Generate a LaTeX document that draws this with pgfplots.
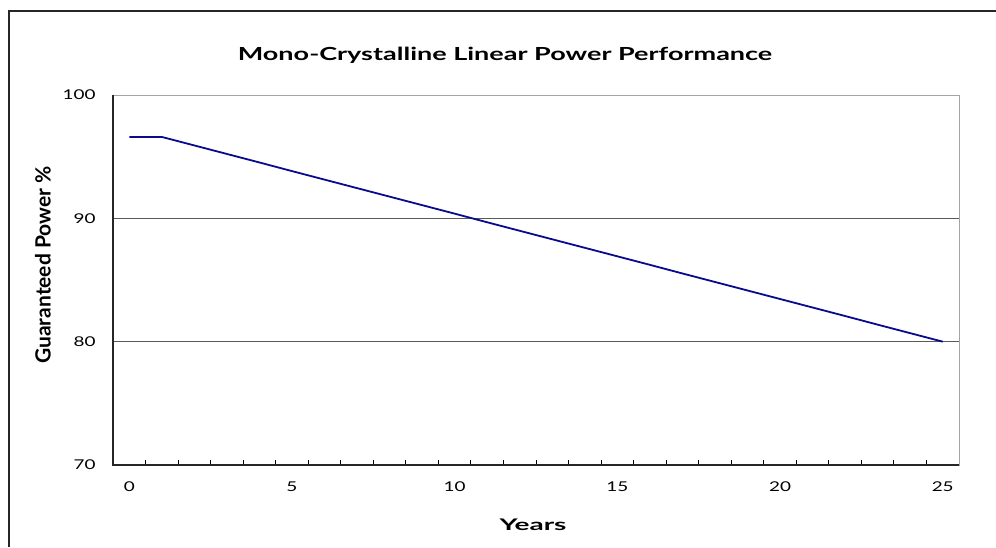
\documentclass[border=0pt]{standalone}
\usepackage{fontspec}
\setmainfont{Lato}
\usepackage{pgfplots}
\pgfplotsset{compat=1.18}
\definecolor{navyline}{RGB}{10,10,140}
\definecolor{gridgray}{RGB}{90,90,90}
\definecolor{boxgray}{RGB}{165,165,165}
\begin{document}
\begin{tikzpicture}[x=1pt,y=1pt]
\useasboundingbox (0,0) rectangle (996,547);
\draw[line width=1.3pt, black!85] (9,0) -- (9,536) -- (996,536);
\begin{axis}[
  at={(113pt,82pt)}, anchor=south west,
  scale only axis, width=846pt, height=370pt,
  xmin=-0.5, xmax=25.5, ymin=70, ymax=100,
  xtick={0,5,...,25},
  minor xtick={0.5,1.5,...,24.5},
  ytick={70,80,90,100},
  major tick length=0pt,
  minor tick length=5pt,
  tick align=inside,
  xtick pos=bottom, ytick pos=left,
  minor tick style={black, line width=0.9pt},
  ymajorgrids,
  grid style={gridgray, line width=0.9pt},
  axis line style={boxgray, line width=1pt},
  ticklabel style={font=\fontsize{13.5}{15}\selectfont},
  xticklabel={\scalebox{1.4}[1]{\pgfmathprintnumber[assume math mode=true]{\tick}}},
  yticklabel={\scalebox{1.4}[1]{\pgfmathprintnumber[assume math mode=true]{\tick}}},
  xticklabel style={yshift=-13pt},
  yticklabel style={xshift=-14pt},
  clip=false,
]
\addplot[navyline, line width=1.8pt] coordinates {
(0,96.6) (1,96.6) (2,95.91) (3,95.22) (4,94.53) (5,93.83) (6,93.14) (7,92.45)
(8,91.76) (9,91.07) (10,90.38) (11,89.68) (12,88.99) (13,88.30) (14,87.61)
(15,86.92) (16,86.23) (17,85.53) (18,84.84) (19,84.15) (20,83.46) (21,82.77)
(22,82.08) (23,81.38) (24,80.69) (25,80.0)};
\draw[black!85, line width=1.3pt] (rel axis cs:0,1) -- (rel axis cs:0,0) -- (rel axis cs:1,0);
\end{axis}
\node[font=\bfseries\fontsize{18}{20}\selectfont] at (505,492) {\scalebox{1.5}[1]{Mono-Crystalline Linear Power Performance}};
\node[font=\bfseries\fontsize{16}{18}\selectfont] at (533,22) {\scalebox{1.75}[1]{Years}};
\node[font=\bfseries\fontsize{21}{23}\selectfont, rotate=90] at (43,282) {Guaranteed Power \%};
\end{tikzpicture}
\end{document}
